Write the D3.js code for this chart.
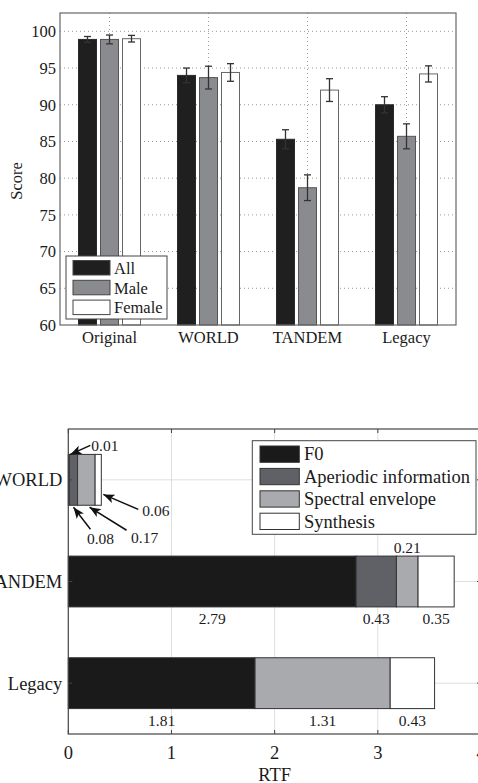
<!DOCTYPE html>
<html>
<head>
<meta charset="utf-8">
<script src="https://cdn.jsdelivr.net/npm/d3@7"></script>
<style>
  body { margin: 0; background: #fff; }
  svg { display: block; font-family: "Liberation Serif", "DejaVu Serif", serif; }
</style>
</head>
<body>
<script>
// ---- top chart data (scores) ----
const methods = ['Original', 'WORLD', 'TANDEM', 'Legacy']
const groups = ['All', 'Male', 'Female']
const scoreAll = [98.9, 94.0, 85.3, 90.0]
const scoreMale = [98.9, 93.7, 78.7, 85.7]
const scoreFemale = [99.0, 94.4, 92.0, 94.2]
const errAll = [0.4, 1.0, 1.3, 1.1]
const errMale = [0.6, 1.55, 1.75, 1.7]
const errFemale = [0.45, 1.2, 1.55, 1.1]
const scoreTicks = [60, 65, 70, 75, 80, 85, 90, 95, 100]

// ---- bottom chart data (RTF) ----
const systems = ['WORLD', 'TANDEM', 'Legacy']
const parts = ['F0', 'Aperiodic information', 'Spectral envelope', 'Synthesis']
const rtfF0 = [0.01, 2.79, 1.81]
const rtfAp = [0.08, 0.39, 0]
const rtfSp = [0.17, 0.21, 1.31]
const rtfSyn = [0.06, 0.35, 0.43]
const rtfLabelsTandem = ['2.79', '0.43', '0.21', '0.35']
const rtfLabelsLegacy = ['1.81', '1.31', '0.43']
const rtfTicks = [0, 1, 2, 3, 4]

const W = 478, H = 783
const TXT = '#1a1a1a'
const svg = d3.select('body').append('svg').attr('width', W).attr('height', H)

// ================= top chart =================
const box1 = { l: 60, r: 456, t: 13, b: 325 }
const scoreCols = { All: '#1f1f1f', Male: '#8a8b8f', Female: '#ffffff' }
const scoreEdge = { All: '#2a2a2a', Male: '#555', Female: '#666' }
const scoreVals = { All: scoreAll, Male: scoreMale, Female: scoreFemale }
const scoreErr = { All: errAll, Male: errMale, Female: errFemale }

const x0 = d3.scaleBand().domain(methods).range([box1.l, box1.r])
const x1 = d3.scaleBand().domain(groups).range([-31, 31]).paddingInner(4 / 22).paddingOuter(0)
const y = d3.scaleLinear().domain([60, 102.5]).range([box1.b, box1.t])
const cx = m => x0(m) + x0.bandwidth() / 2

const g1 = svg.append('g')
// dotted grid
g1.selectAll('.hg').data(scoreTicks.slice(1)).enter().append('line')
  .attr('x1', box1.l).attr('x2', box1.r).attr('y1', d => y(d)).attr('y2', d => y(d))
  .attr('stroke', '#9a9a9a').attr('stroke-width', 1).attr('stroke-dasharray', '1,3')
g1.selectAll('.vg').data(methods).enter().append('line')
  .attr('x1', cx).attr('x2', cx).attr('y1', box1.t).attr('y2', box1.b)
  .attr('stroke', '#9a9a9a').attr('stroke-width', 1).attr('stroke-dasharray', '1,3')

// bars
const rows = []
methods.forEach((m, i) => groups.forEach(gname => rows.push({ m, g: gname, v: scoreVals[gname][i], e: scoreErr[gname][i] })))
g1.selectAll('rect.bar').data(rows).enter().append('rect')
  .attr('x', d => cx(d.m) + x1(d.g)).attr('width', x1.bandwidth())
  .attr('y', d => y(d.v)).attr('height', d => y(60) - y(d.v))
  .attr('fill', d => scoreCols[d.g]).attr('stroke', d => scoreEdge[d.g]).attr('stroke-width', 1)

// error bars
const eb = g1.selectAll('g.eb').data(rows).enter().append('g')
  .attr('stroke', '#333').attr('stroke-width', 1.3)
eb.append('line')
  .attr('x1', d => cx(d.m) + x1(d.g) + x1.bandwidth() / 2).attr('x2', d => cx(d.m) + x1(d.g) + x1.bandwidth() / 2)
  .attr('y1', d => y(d.v + d.e)).attr('y2', d => y(d.v - d.e))
eb.selectAll('line.cap').data(d => [d.v + d.e, d.v - d.e].map(v => ({ d, v }))).enter().append('line')
  .attr('x1', o => cx(o.d.m) + x1(o.d.g) + x1.bandwidth() / 2 - 3.5)
  .attr('x2', o => cx(o.d.m) + x1(o.d.g) + x1.bandwidth() / 2 + 3.5)
  .attr('y1', o => y(o.v)).attr('y2', o => y(o.v))

// frame and ticks
g1.append('rect').attr('x', box1.l).attr('y', box1.t).attr('width', box1.r - box1.l).attr('height', box1.b - box1.t)
  .attr('fill', 'none').attr('stroke', '#666').attr('stroke-width', 1.2)
g1.selectAll('.yt').data(scoreTicks).enter().append('text')
  .attr('x', box1.l - 4).attr('y', d => y(d)).attr('dy', '0.35em')
  .attr('text-anchor', 'end').attr('font-size', 16.5).attr('fill', TXT).text(d => d)
g1.selectAll('.xt').data(methods).enter().append('text')
  .attr('x', cx).attr('y', box1.b + 18).attr('text-anchor', 'middle')
  .attr('font-size', 16.5).attr('fill', TXT).text(d => d)
g1.append('text').attr('transform', `translate(22,${(box1.t + box1.b) / 2 + 12}) rotate(-90)`)
  .attr('text-anchor', 'middle').attr('font-size', 16.5).attr('fill', TXT).text('Score')

// legend
const lg1 = g1.append('g')
lg1.append('rect').attr('x', 66).attr('y', 256).attr('width', 101).attr('height', 63)
  .attr('fill', '#fff').attr('stroke', '#444').attr('stroke-width', 1)
groups.forEach((gname, i) => {
  lg1.append('rect').attr('x', 73).attr('y', 260.5 + i * 19.8).attr('width', 37).attr('height', 14.5)
    .attr('fill', scoreCols[gname]).attr('stroke', '#444').attr('stroke-width', 1)
  lg1.append('text').attr('x', 114).attr('y', 268 + i * 19.8).attr('dy', '0.35em')
    .attr('font-size', 16.5).attr('fill', TXT).text(gname)
})

// ================= bottom chart =================
const box2 = { l: 68.3, r: 481, t: 429, b: 734 }
const partCols = ['#1a1a1a', '#606166', '#a9aaad', '#ffffff']
const partVals = [rtfF0, rtfAp, rtfSp, rtfSyn]

const xr = d3.scaleLinear().domain([0, 4]).range([box2.l, box2.r])
const yb = d3.scaleBand().domain(systems).range([box2.t, box2.b]).paddingInner(0.5).paddingOuter(0.25)
const cy = s => yb(s) + yb.bandwidth() / 2

const g2 = svg.append('g')
// grid
g2.selectAll('.vg2').data(rtfTicks.slice(1, 4)).enter().append('line')
  .attr('x1', d => xr(d)).attr('x2', d => xr(d)).attr('y1', box2.t).attr('y2', box2.b)
  .attr('stroke', '#dedede').attr('stroke-width', 1)
g2.selectAll('.hg2').data(systems).enter().append('line')
  .attr('x1', box2.l).attr('x2', box2.r).attr('y1', cy).attr('y2', cy)
  .attr('stroke', '#dedede').attr('stroke-width', 1)

// stacked bars
const stacked = d3.stack().keys(d3.range(4))(systems.map((s, i) => partVals.map(a => a[i])))
stacked.forEach((layer, k) => {
  g2.selectAll('.seg' + k).data(layer.map((d, i) => ({ s: systems[i], a: d[0], b: d[1] })).filter(d => d.b > d.a))
    .enter().append('rect')
    .attr('x', d => xr(d.a)).attr('width', d => xr(d.b) - xr(d.a))
    .attr('y', d => yb(d.s)).attr('height', yb.bandwidth())
    .attr('fill', partCols[k]).attr('stroke', '#333').attr('stroke-width', 1)
})

// value labels
const segMid = (k, i) => xr((stacked[k][i][0] + stacked[k][i][1]) / 2)
const tandemPos = [[0, 1], [1, 1], [2, -1], [3, 1]]
tandemPos.forEach(([k, side], j) => {
  g2.append('text').attr('x', segMid(k, 1))
    .attr('y', side > 0 ? yb('TANDEM') + yb.bandwidth() + 12 : yb('TANDEM') - 9)
    .attr('dy', '0.35em').attr('text-anchor', 'middle').attr('font-size', 15.5).attr('fill', TXT)
    .text(rtfLabelsTandem[j])
})
;[0, 2, 3].forEach((k, j) => {
  g2.append('text').attr('x', segMid(k, 2)).attr('y', yb('Legacy') + yb.bandwidth() + 12)
    .attr('dy', '0.35em').attr('text-anchor', 'middle').attr('font-size', 15.5).attr('fill', TXT)
    .text(rtfLabelsLegacy[j])
})

// WORLD annotations with arrows
svg.append('defs').append('marker').attr('id', 'ah')
  .attr('viewBox', '0 0 10 8').attr('refX', 10).attr('refY', 4)
  .attr('markerWidth', 12).attr('markerHeight', 9).attr('markerUnits', 'userSpaceOnUse').attr('orient', 'auto')
  .append('path').attr('d', 'M0,0 L10,4 L0,8 L2.5,4 Z').attr('fill', '#111')
const wy0 = yb('WORLD'), wy1 = yb('WORLD') + yb.bandwidth()
const wcum = stacked.map(l => l[0])
const annots = [
  { tip: [xr(wcum[0][1]) + 1, wy0], tail: [20, -9], txt: rtfF0[0], anchor: 'start', tx: 21, ty: -9 },
  { tip: [xr((wcum[1][0] + wcum[1][1]) / 2), wy1 + 2], tail: [17, 22], txt: rtfAp[0], anchor: 'middle', tx: 27, ty: 31 },
  { tip: [xr(wcum[2][0]) + 12, wy1 + 2], tail: [37, 23], txt: rtfSp[0], anchor: 'middle', tx: 55, ty: 30 },
  { tip: [xr(wcum[3][1]) + 2, wy0 + 40], tail: [35, 15], txt: rtfSyn[0], anchor: 'start', tx: 39, ty: 16 }
]
annots.forEach(a => {
  g2.append('line').attr('x1', a.tip[0] + a.tail[0]).attr('y1', a.tip[1] + a.tail[1])
    .attr('x2', a.tip[0]).attr('y2', a.tip[1]).attr('stroke', '#111').attr('stroke-width', 1.5)
    .attr('marker-end', 'url(#ah)')
  g2.append('text').attr('x', a.tip[0] + a.tx).attr('y', a.tip[1] + a.ty).attr('dy', '0.35em')
    .attr('text-anchor', a.anchor).attr('font-size', 15.5).attr('fill', TXT).text(a.txt.toFixed(2))
})

// frame, ticks
g2.append('rect').attr('x', box2.l).attr('y', box2.t).attr('width', box2.r - box2.l).attr('height', box2.b - box2.t)
  .attr('fill', 'none').attr('stroke', '#444').attr('stroke-width', 1.2)
rtfTicks.forEach(t => {
  g2.append('line').attr('x1', xr(t)).attr('x2', xr(t)).attr('y1', box2.b).attr('y2', box2.b - 4).attr('stroke', '#444')
  g2.append('line').attr('x1', xr(t)).attr('x2', xr(t)).attr('y1', box2.t).attr('y2', box2.t + 4).attr('stroke', '#444')
})
systems.forEach(s => {
  g2.append('line').attr('x1', box2.l).attr('x2', box2.l + 4).attr('y1', cy(s)).attr('y2', cy(s)).attr('stroke', '#444')
  g2.append('line').attr('x1', box2.r).attr('x2', box2.r - 4).attr('y1', cy(s)).attr('y2', cy(s)).attr('stroke', '#444')
})
g2.selectAll('.xt2').data(rtfTicks).enter().append('text')
  .attr('x', d => xr(d)).attr('y', box2.b + 19).attr('dy', '0.35em').attr('text-anchor', 'middle')
  .attr('font-size', 18.5).attr('fill', TXT).text(d => d)
g2.selectAll('.yt2').data(systems).enter().append('text')
  .attr('x', box2.l - 6).attr('y', cy).attr('dy', '0.35em').attr('text-anchor', 'end')
  .attr('font-size', 18.5).attr('fill', TXT).text(d => d)
g2.append('text').attr('x', xr(2)).attr('y', 775).attr('dy', '0.35em').attr('text-anchor', 'middle')
  .attr('font-size', 18.5).attr('fill', TXT).text('RTF')

// legend
const lg2 = g2.append('g')
lg2.append('rect').attr('x', 252.3).attr('y', 440.7).attr('width', 223.7).attr('height', 93.6)
  .attr('fill', '#fff').attr('stroke', '#444').attr('stroke-width', 1)
parts.forEach((p, i) => {
  lg2.append('rect').attr('x', 260).attr('y', 446 + i * 22.4).attr('width', 39.3).attr('height', 16.3)
    .attr('fill', partCols[i]).attr('stroke', '#333').attr('stroke-width', 1)
  lg2.append('text').attr('x', 304).attr('y', 454 + i * 22.4).attr('dy', '0.35em')
    .attr('font-size', 18.5).attr('fill', TXT).text(p)
})
</script>
</body>
</html>
